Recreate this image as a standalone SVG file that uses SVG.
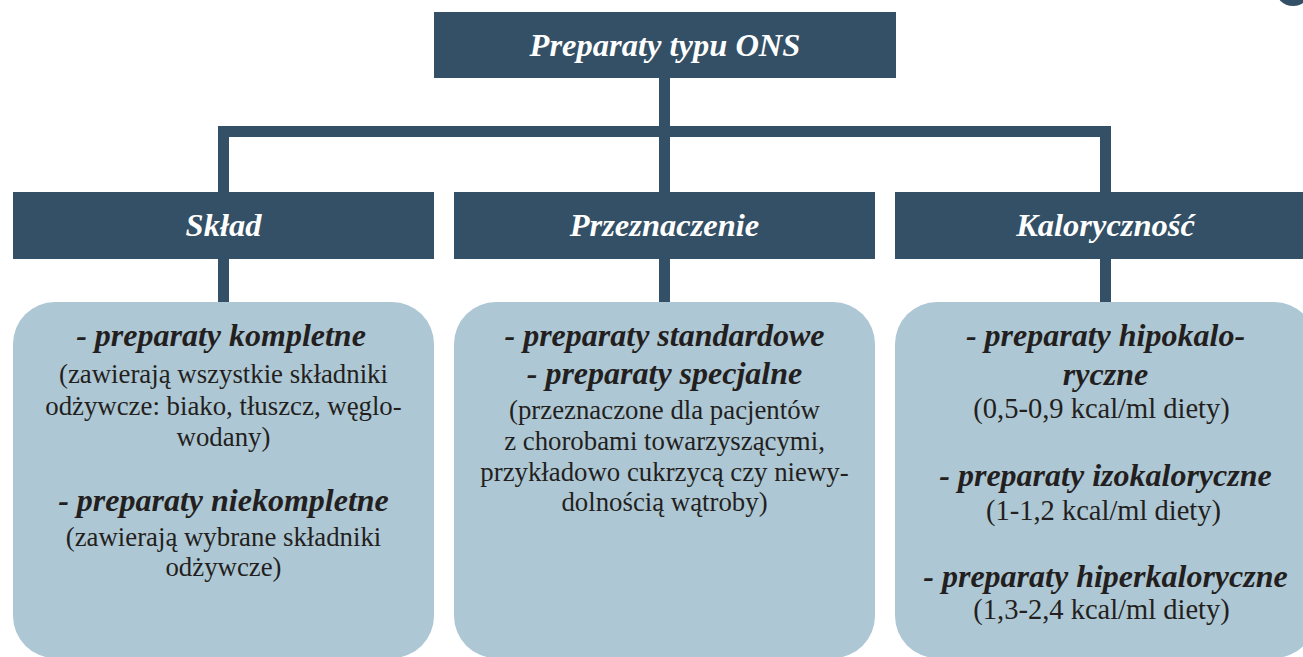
<svg xmlns="http://www.w3.org/2000/svg" width="1303" height="657" viewBox="0 0 1303 657">
<style>
.dark{fill:#345066}
.light{fill:#aec7d4}
.h{font-family:"Liberation Serif","Times New Roman",serif;font-weight:bold;font-style:italic;fill:#ffffff;text-anchor:middle;font-size:32.5px}
.b{font-family:"Liberation Serif","Times New Roman",serif;font-weight:bold;font-style:italic;fill:#231f20;font-size:32px;text-anchor:middle}
.r{font-family:"Liberation Serif","Times New Roman",serif;fill:#231f20;font-size:26.8px;text-anchor:middle}
.k{font-size:28.5px}
</style>
<rect width="1303" height="657" fill="#ffffff"/>
<circle cx="1293" cy="-12" r="18" class="dark"/>
<g id="connectors" class="dark">
<rect x="659" y="76" width="11" height="56"/>
<rect x="218" y="126" width="893" height="11"/>
<rect x="218" y="126" width="11" height="70"/>
<rect x="659" y="126" width="11" height="70"/>
<rect x="1100" y="126" width="11" height="70"/>
<rect x="218" y="257" width="11" height="48"/>
<rect x="659" y="257" width="11" height="48"/>
<rect x="1100" y="257" width="11" height="48"/>
</g>
<g id="root">
<rect x="434" y="12" width="462" height="66" class="dark"/>
<text x="665" y="56" class="h">Preparaty typu ONS</text>
</g>
<g id="sklad">
<rect x="13" y="192" width="421" height="67" class="dark"/>
<text x="223.5" y="236" class="h">Skład</text>
</g>
<g id="przeznaczenie">
<rect x="454" y="192" width="421" height="67" class="dark"/>
<text x="664.5" y="236" class="h">Przeznaczenie</text>
</g>
<g id="kalorycznosc">
<rect x="895" y="192" width="421" height="67" class="dark"/>
<text x="1105.5" y="236" class="h">Kaloryczność</text>
</g>
<g id="sklad-details">
<rect x="13" y="302" width="421" height="356" rx="42" class="light"/>
<text x="221" y="346" class="b">- preparaty kompletne</text>
<text x="223.5" y="383" class="r">(zawierają wszystkie składniki</text>
<text x="223.5" y="415" class="r">odżywcze: biako, tłuszcz, węglo-</text>
<text x="223.5" y="446" class="r">wodany)</text>
<text x="223.5" y="511" class="b">- preparaty niekompletne</text>
<text x="223.5" y="546" class="r">(zawierają wybrane składniki</text>
<text x="223.5" y="576" class="r">odżywcze)</text>
</g>
<g id="przeznaczenie-details">
<rect x="454" y="302" width="421" height="356" rx="42" class="light"/>
<text x="664.5" y="346" class="b">- preparaty standardowe</text>
<text x="664.5" y="384" class="b">- preparaty specjalne</text>
<text x="664.5" y="419" class="r">(przeznaczone dla pacjentów</text>
<text x="664.5" y="450" class="r">z chorobami towarzyszącymi,</text>
<text x="664.5" y="481" class="r">przykładowo cukrzycą czy niewy-</text>
<text x="664.5" y="511" class="r">dolnością wątroby)</text>
</g>
<g id="kalorycznosc-details">
<rect x="895" y="302" width="421" height="356" rx="42" class="light"/>
<text x="1105.5" y="346" class="b">- preparaty hipokalo-</text>
<text x="1105.5" y="385" class="b">ryczne</text>
<text x="1101.5" y="418" class="r k">(0,5-0,9 kcal/ml diety)</text>
<text x="1105.5" y="486" class="b">- preparaty izokaloryczne</text>
<text x="1103.5" y="520" class="r k">(1-1,2 kcal/ml diety)</text>
<text x="1105.5" y="587" class="b">- preparaty hiperkaloryczne</text>
<text x="1101.5" y="619" class="r k">(1,3-2,4 kcal/ml diety)</text>
</g>
</svg>
